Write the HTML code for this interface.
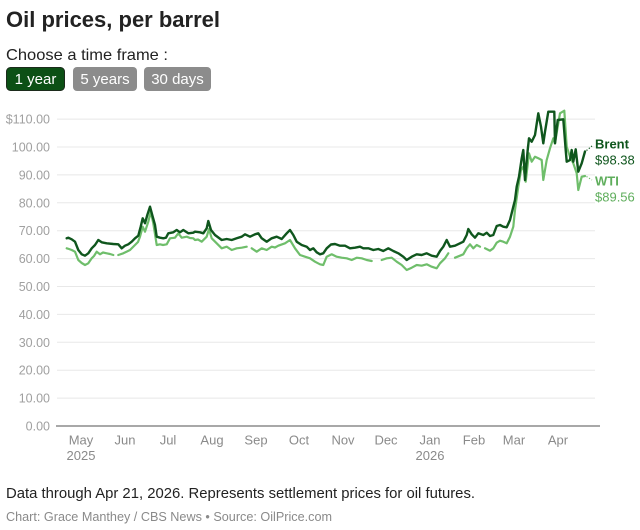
<!DOCTYPE html>
<html><head><meta charset="utf-8"><style>
html,body{margin:0;padding:0;background:#fff;}
svg{display:block;font-family:"Liberation Sans",Arial,sans-serif;}
</style></head><body>
<svg width="640" height="530" viewBox="0 0 640 530" xmlns="http://www.w3.org/2000/svg">
<rect width="640" height="530" fill="#fff"/>
<text x="6" y="27" font-size="22" font-weight="bold" fill="#222" textLength="214" lengthAdjust="spacingAndGlyphs">Oil prices, per barrel</text>
<text x="6" y="60" font-size="16" fill="#222" textLength="162" lengthAdjust="spacingAndGlyphs">Choose a time frame :</text>
<rect x="6.5" y="67.5" width="58" height="23" rx="4" fill="#0c5015" stroke="#1c2b1c" stroke-width="1"/>
<text x="35.5" y="84" font-size="15" fill="#fff" text-anchor="middle">1 year</text>
<rect x="73" y="67" width="64" height="24" rx="4" fill="#8c8c8c"/>
<text x="105" y="84" font-size="15" fill="#fff" text-anchor="middle">5 years</text>
<rect x="144" y="67" width="67" height="24" rx="4" fill="#8c8c8c"/>
<text x="177.5" y="84" font-size="15" fill="#fff" text-anchor="middle">30 days</text>

<g stroke="#e8e8e8" stroke-width="1">
<line x1="57" x2="595" y1="119.1" y2="119.1"/>
<line x1="57" x2="595" y1="147" y2="147"/>
<line x1="57" x2="595" y1="174.9" y2="174.9"/>
<line x1="57" x2="595" y1="202.8" y2="202.8"/>
<line x1="57" x2="595" y1="230.7" y2="230.7"/>
<line x1="57" x2="595" y1="258.6" y2="258.6"/>
<line x1="57" x2="595" y1="286.5" y2="286.5"/>
<line x1="57" x2="595" y1="314.4" y2="314.4"/>
<line x1="57" x2="595" y1="342.3" y2="342.3"/>
<line x1="57" x2="595" y1="370.2" y2="370.2"/>
<line x1="57" x2="595" y1="398.1" y2="398.1"/>
</g>
<line x1="56" x2="600" y1="426" y2="426" stroke="#8c8c8c" stroke-width="1.6"/>
<g font-size="12.5" fill="#a0a0a0" text-anchor="end">
<text x="50" y="123.5">$110.00</text>
<text x="50" y="151.5">100.00</text>
<text x="50" y="179.4">90.00</text>
<text x="50" y="207.3">80.00</text>
<text x="50" y="235.2">70.00</text>
<text x="50" y="263.1">60.00</text>
<text x="50" y="291">50.00</text>
<text x="50" y="318.9">40.00</text>
<text x="50" y="346.8">30.00</text>
<text x="50" y="374.7">20.00</text>
<text x="50" y="402.6">10.00</text>
<text x="50" y="430.5">0.00</text>
</g>
<g font-size="13" fill="#8a8a8a" text-anchor="middle">
<text x="81" y="444.5">May</text>
<text x="81" y="460">2025</text>
<text x="125" y="444.5">Jun</text>
<text x="168" y="444.5">Jul</text>
<text x="212" y="444.5">Aug</text>
<text x="256" y="444.5">Sep</text>
<text x="299" y="444.5">Oct</text>
<text x="343" y="444.5">Nov</text>
<text x="386" y="444.5">Dec</text>
<text x="430" y="444.5">Jan</text>
<text x="430" y="460">2026</text>
<text x="474" y="444.5">Feb</text>
<text x="514" y="444.5">Mar</text>
<text x="558" y="444.5">Apr</text>
</g>

<g fill="none" stroke="#6fbe6b" stroke-width="2.2" stroke-linejoin="round" stroke-linecap="round">
<polyline points="66.7,248.3 69,249 71.7,250 75,251.7 78.3,260 81.7,263 85,265 88.3,263.3 91.7,258.3 94,256 96.7,251.7 100,254.3 103,252.5 106.7,253.3 110,254 113.3,255"/>
<polyline points="118.3,255 123.3,253.3 127,251.5 130,250 135,245 138,242 140,236.7 142.7,226.7 145,231.7 148.3,221.7 150.7,211.7 153.3,223.3 156.7,245 160,244.3 163,245 166.7,244.3 170,238.3 175,237.7 178.3,233.3 181.7,237.7 186.7,236.7 190,238 193.3,238.3 195,240 198,239.5 201.7,241.7 206.7,236.7 209,229 211.7,238.3 216.7,243.3 221.7,248.3 226.7,246.7 231.7,250 236.7,248.3 241.7,247.7 246.7,246.7"/>
<polyline points="251.7,248.3 256.7,251.7 261.7,248.3 266.7,250 271.7,246.7 275,247.5 278.3,245.7 285,243.3 290,240 295,248.3 300,255 305,256.7 310,258.3 315,261.7 320,264.3 323.3,265 326.7,256.7 331.7,254.3 336.7,256.7 341.7,257.7 346.7,258.3 351.7,260 356.7,257.7 361.7,258.3 366.7,260 371.7,261"/>
<polyline points="381.7,260 386.7,258.3 391.7,257.7 396.7,261.7 401.7,265 406.7,270 411.7,267.7 416.7,265 421.7,265.7 426.7,264.3 431.7,266.7 436.7,268.3 440,263.3 445,258.3 448.3,253.3"/>
<polyline points="455,257.7 460,255.7 463.3,254.3 466.7,248.3 470,244.3 473.3,248.3 476.7,245 480,246.7"/>
<polyline points="485,248.3 490,250.7 493.3,248.3 496.7,242.7 500,240.7 503.3,241.7 506.7,243.3 510,236.7 513.3,226.7 515,210 518.3,186.7 521,170 523.3,166.7 525.7,181.7 529,153.3 531.7,161.7 535,156.7 538.3,158.3 541.7,160 543.3,180 546.7,160 550,148.3 553.3,138.3 555,143.3 557.7,126.7 560,113.3 564.3,110.7 566.7,146.7 570,156.7 573.3,163.3 576.7,173.3 578.3,190 581.7,176.7 585,176"/>
</g>
<g fill="none" stroke="#0f561d" stroke-width="2.4" stroke-linejoin="round" stroke-linecap="round">
<polyline points="66.7,238.3 68.3,237.7 71.7,239.3 75,241.7 78.3,250 81.7,254.3 85,255.7 88.3,253.3 91.7,248.3 95,245 98.3,240 101.7,242.3 106.7,243.3 113.3,244 118.3,244.3 121.7,248.3 125,245.7 128.3,244.3 131.7,241.7 135,238.3 138.3,235.7 140.7,226.7 142.7,218.3 145,223.3 147.3,215 150,206.7 152.7,216.7 155,225 156.7,236.7 160,237.7 163.3,238.3 166,237.7 168.3,233.3 173.3,232.3 176.7,230 180,232.3 183.3,230 188.3,233.3 193.3,232.7 195,231.7 200,232.3 203.3,233.3 206.7,228.3 208.3,221 211,230 215,235 221.7,240 226.7,239 231.7,240 236.7,238.3 241.7,236.7 245,234.3 250,236.7 255,234.3 258.3,233.3 261.7,238.3 266.7,241.7 271.7,238.3 276.7,236.7 281.7,239 286.7,233.3 290,230 293.3,235 296.7,241.7 301.7,245 306.7,246.7 310,250 313.3,248.3 316.7,252.3 320,254.3 323.3,253.3 326.7,248.3 331,244.5 335,244 340,245.7 345,245.7 350,248.3 355,247.7 360,246.7 363.3,248.3 368.3,248.3 373.3,250 378.3,249 383.3,251 388.3,248.3 393.3,251 398.3,253.3 403.3,256.7 406.7,260 411.7,256.7 416.7,254.3 421.7,255 426.7,253.3 431.7,255.7 436.7,256.7 440,251 443.3,246.7 446.7,240 450,246.7 455,245.7 460,243.3 463.3,241.7 466.7,235 468.3,229 471.7,234.3 475,237.7 478.3,233.3 483.3,235 486.7,232.7 490,236 493.3,235 496.7,226 500,225 503.3,226.7 506.7,227.3 510,220 513.3,206.7 515,200 516.7,186.7 519,176.7 521.7,158.3 523.3,150 525,180 527.7,150 529,138.3 531.7,141.7 535,135 538.3,113.3 541,126.7 543.3,143.3 545,131.7 548.3,111.7 554.3,111.7 555,143.3 557.7,120 563.3,119.3 565.7,150 566.7,161.7 570,160 571.7,150 573.3,161.7 575.7,149.3 578.3,171.7 581.7,163.3 585,151.5"/>
</g>
<line x1="586.5" y1="150.5" x2="592" y2="146" stroke="#0f561d" stroke-width="1.2" stroke-dasharray="1.2,1.8"/>
<line x1="586.5" y1="176.5" x2="592" y2="180" stroke="#6fbe6b" stroke-width="1.2" stroke-dasharray="1.2,1.8"/>
<text x="595" y="148.5" font-size="13" font-weight="bold" fill="#0f561d">Brent</text>
<text x="595" y="164.5" font-size="13" fill="#0f561d">$98.38</text>
<text x="595" y="185.5" font-size="13" font-weight="bold" fill="#5fae5c">WTI</text>
<text x="595" y="201.5" font-size="13" fill="#5fae5c">$89.56</text>

<text x="6" y="498" font-size="15" fill="#222" textLength="469" lengthAdjust="spacingAndGlyphs">Data through Apr 21, 2026. Represents settlement prices for oil futures.</text>
<text x="6" y="521" font-size="13" fill="#8a8a8a" textLength="326" lengthAdjust="spacingAndGlyphs">Chart: Grace Manthey / CBS News • Source: OilPrice.com</text>
</svg>
</body></html>
